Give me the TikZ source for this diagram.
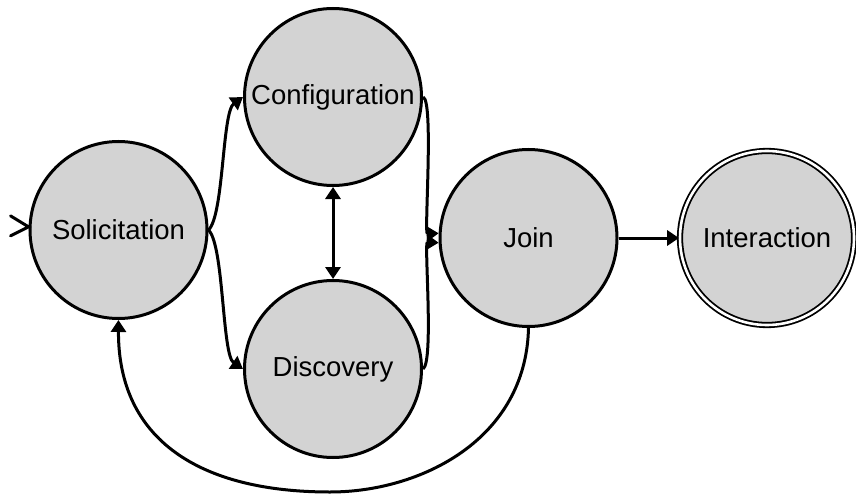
\documentclass[tikz,border=0pt]{standalone}
\usepackage{fontspec}
\setmainfont{Liberation Sans}
\usetikzlibrary{arrows.meta,calc}
\definecolor{statefill}{RGB}{211,211,211}
\tikzset{
  state/.style={circle, draw=black, fill=statefill, line width=3pt,
    minimum size=177pt, inner sep=0pt,
    font=\fontsize{27.5pt}{30pt}\selectfont},
  accept/.style={state, line width=1.8pt, double=white, double distance=2.6pt,
    minimum size=174pt},
  tip/.style={Triangle[length=12pt,width=15pt]},
  trans/.style={line width=3pt, -{Triangle[length=12pt,width=15pt]}},
  bitrans/.style={line width=3pt, {Triangle[length=12pt,width=15pt]}-{Triangle[length=12pt,width=15pt]}},
}
\begin{document}
\begin{tikzpicture}[x=1pt,y=-1pt]
  \useasboundingbox (0,0) rectangle (856,497);

  % states
  \node[state]  (sol)  at (118.5,230) {Solicitation};
  \node[state]  (conf) at (333,97)    {Configuration};
  \node[state]  (disc) at (333,369)   {Discovery};
  \node[state]  (join) at (528.5,238) {Join};
  \node[accept] (inter) at (767,238)  {Interaction};

  % initial-state marker
  \coordinate (entry) at (sol.178);
  \draw[line width=3pt, line cap=round, line join=miter]
    ($(entry)+(-18,-11)$) -- (entry) -- ($(entry)+(-18,9)$);

  % transitions
  \draw[trans] (sol.east) .. controls (224,215) and (222,112) .. (conf.west);
  \draw[trans] (sol.east) .. controls (224,245) and (222,355) .. (disc.west);
  \draw[trans] (conf.east) .. controls (434,100) and (424,234) .. (join.177);
  \draw[trans] (disc.east) .. controls (434,362) and (424,242) .. (join.183);
  \draw[bitrans] (conf.south) -- (disc.north);
  \draw[trans] (join.east) -- (inter.west);
  \draw[trans] (join.south) .. controls (526,440) and (420,492) .. (330,492)
    .. controls (200,492) and (118,440) .. (sol.south);
\end{tikzpicture}
\end{document}
